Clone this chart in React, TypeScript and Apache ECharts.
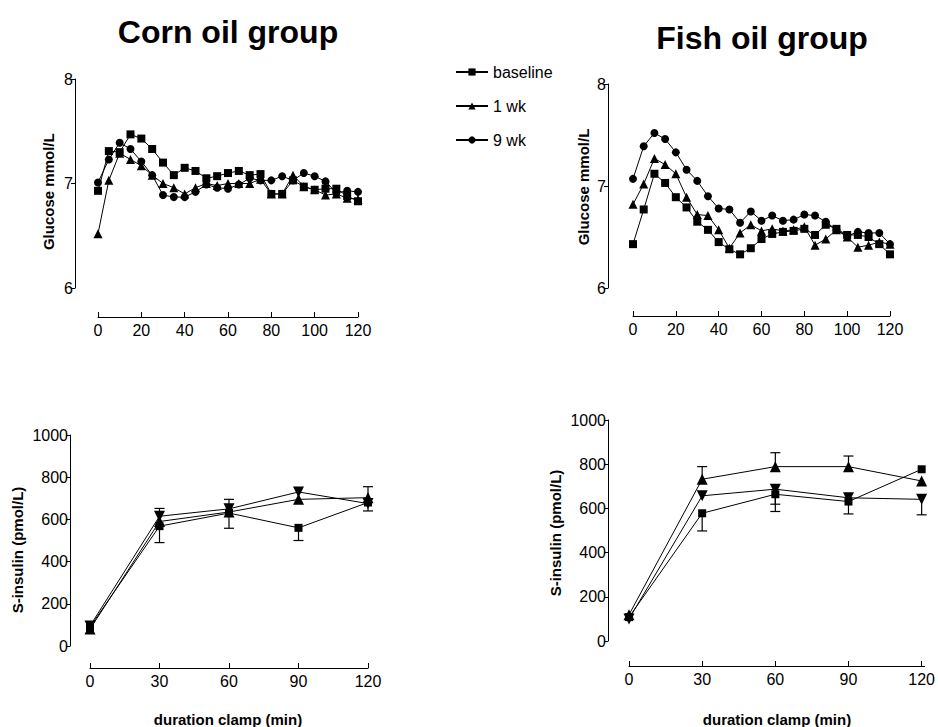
import React, { useEffect, useRef } from "react";
import * as echarts from "echarts";

// ---- data ----
const glucoseTimes = [0, 5, 10, 15, 20, 25, 30, 35, 40, 45, 50, 55, 60, 65, 70, 75, 80, 85, 90, 95, 100, 105, 110, 115, 120];
const cornBaseline = [6.93, 7.31, 7.3, 7.47, 7.43, 7.33, 7.2, 7.08, 7.15, 7.12, 7.05, 7.07, 7.1, 7.12, 7.08, 7.09, 6.9, 6.9, 7.03, 6.97, 6.94, 6.95, 6.95, 6.88, 6.83];
const corn1wk = [6.52, 7.03, 7.29, 7.23, 7.17, 7.08, 7.0, 6.96, 6.9, 6.96, 7.0, 6.98, 7.0, 7.0, 7.0, 7.04, 6.9, 6.9, 7.08, 6.97, 6.94, 6.89, 6.9, 6.86, 6.85];
const corn9wk = [7.01, 7.23, 7.39, 7.33, 7.21, 7.08, 6.89, 6.87, 6.87, 6.92, 6.99, 6.96, 6.95, 6.99, 7.05, 7.03, 7.03, 7.07, 7.03, 7.1, 7.07, 7.02, 6.91, 6.93, 6.92];
const fishBaseline = [6.43, 6.77, 7.12, 7.03, 6.89, 6.79, 6.65, 6.57, 6.45, 6.38, 6.33, 6.39, 6.48, 6.53, 6.55, 6.56, 6.58, 6.52, 6.62, 6.58, 6.52, 6.52, 6.5, 6.43, 6.33];
const fish1wk = [6.82, 7.02, 7.27, 7.21, 7.12, 6.89, 6.72, 6.71, 6.57, 6.39, 6.54, 6.62, 6.56, 6.58, 6.56, 6.57, 6.6, 6.42, 6.48, 6.57, 6.5, 6.4, 6.42, 6.45, 6.43];
const fish9wk = [7.07, 7.39, 7.52, 7.46, 7.33, 7.16, 7.05, 6.9, 6.78, 6.77, 6.64, 6.75, 6.66, 6.71, 6.66, 6.67, 6.72, 6.71, 6.65, 6.57, 6.51, 6.55, 6.54, 6.54, 6.43];

const insulinTimes = [0, 30, 60, 90, 120];
const cornInsBaseline = [90, 568, 630, 560, 680];
const cornIns1wk = [80, 590, 635, 695, 703];
const cornIns9wk = [95, 615, 650, 730, 675];
const fishInsBaseline = [108, 578, 664, 631, 777];
const fishIns1wk = [119, 732, 789, 789, 724];
const fishIns9wk = [100, 657, 687, 648, 641];

// error bars: [time, mean, end of bar]
const cornInsErrors = [
  [30, 568, 490], [60, 630, 558], [90, 560, 500], [120, 680, 640],
  [30, 615, 652], [60, 650, 695], [120, 703, 755],
];
const fishInsErrors = [
  [30, 732, 789], [60, 789, 852], [90, 789, 837],
  [30, 578, 498], [60, 664, 586], [90, 631, 575], [60, 687, 619], [120, 641, 571],
];

const seriesNames = ["baseline", "1 wk", "9 wk"];
const glucoseTicks = { min: 6, max: 8, interval: 1 };
const insulinTicks = { min: 0, max: 1000, interval: 200 };

const FONT = "'Liberation Sans', Arial, Helvetica, sans-serif";

const pair = (xs: number[], ys: number[]) => xs.map((x, i) => [x, ys[i]]);

export default function App() {
  const ref = useRef<HTMLDivElement>(null);
  useEffect(() => {
    if (!ref.current) return;
    const chart = echarts.init(ref.current, undefined, { renderer: "svg" });

    const grids = [
      { left: 98, top: 79, width: 260, height: 209 },
      { left: 633, top: 84, width: 257, height: 204 },
      { left: 90, top: 435, width: 278, height: 211 },
      { left: 629, top: 420, width: 296, height: 221 },
    ];
    const xOffsets = [29, 28, 22, 25];
    const yOffsets = [23, 25, 20, 21];

    const labelStyle = () => ({ color: "#000", fontSize: 16, fontFamily: FONT });

    const xAxes = grids.map((_, i) => ({
      type: "value",
      gridIndex: i,
      position: "bottom",
      min: 0,
      max: 120,
      interval: i < 2 ? 20 : 30,
      offset: xOffsets[i],
      axisLine: { show: true, onZero: false, lineStyle: { color: "#000", width: 1 } },
      axisTick: { show: true, inside: true, length: 5, lineStyle: { color: "#000", width: 1 } },
      axisLabel: { ...labelStyle(), margin: 5, formatter: (v: number) => String(v) },
      splitLine: { show: false },
    }));
    const yAxes = grids.map((_, i) => {
      const t = i < 2 ? glucoseTicks : insulinTicks;
      return {
        type: "value",
        gridIndex: i,
        position: "left",
        min: t.min,
        max: t.max,
        interval: t.interval,
        offset: yOffsets[i],
        axisLine: { show: true, onZero: false, lineStyle: { color: "#000", width: 1 } },
        axisTick: { show: true, inside: false, length: 4, lineStyle: { color: "#000", width: 1 } },
        axisLabel: { ...labelStyle(), margin: 2, formatter: (v: number) => String(v) },
        splitLine: { show: false },
      };
    });

    const lineSeries = (name: string, idx: number, data: number[][], symbol: string, size: number, rotate = 0) => ({
      type: "line",
      name,
      xAxisIndex: idx,
      yAxisIndex: idx,
      data,
      symbol,
      symbolSize: size,
      symbolRotate: rotate,
      showAllSymbol: true,
      lineStyle: { color: "#000", width: 1 },
      itemStyle: { color: "#000", borderWidth: 0 },
      z: 3,
    });

    const errorSeries = (idx: number, data: number[][]) => ({
      type: "custom",
      xAxisIndex: idx,
      yAxisIndex: idx,
      data,
      z: 2,
      renderItem: (params: any, api: any) => {
        const x = api.value(0);
        const m = api.coord([x, api.value(1)]);
        const e = api.coord([x, api.value(2)]);
        return {
          type: "group",
          children: [
            { type: "line", shape: { x1: m[0], y1: m[1], x2: e[0], y2: e[1] }, style: { stroke: "#000", lineWidth: 1.2 } },
            { type: "line", shape: { x1: e[0] - 5, y1: e[1], x2: e[0] + 5, y2: e[1] }, style: { stroke: "#000", lineWidth: 1.2 } },
          ],
        };
      },
    });

    const series: any[] = [
      lineSeries(seriesNames[0], 0, pair(glucoseTimes, cornBaseline), "rect", 8),
      lineSeries(seriesNames[1], 0, pair(glucoseTimes, corn1wk), "triangle", 9),
      lineSeries(seriesNames[2], 0, pair(glucoseTimes, corn9wk), "circle", 8),
      lineSeries(seriesNames[0], 1, pair(glucoseTimes, fishBaseline), "rect", 8),
      lineSeries(seriesNames[1], 1, pair(glucoseTimes, fish1wk), "triangle", 9),
      lineSeries(seriesNames[2], 1, pair(glucoseTimes, fish9wk), "circle", 8),
      errorSeries(2, cornInsErrors),
      lineSeries(seriesNames[0], 2, pair(insulinTimes, cornInsBaseline), "rect", 8),
      lineSeries(seriesNames[1], 2, pair(insulinTimes, cornIns1wk), "triangle", 11),
      lineSeries(seriesNames[2], 2, pair(insulinTimes, cornIns9wk), "triangle", 11, 180),
      errorSeries(3, fishInsErrors),
      lineSeries(seriesNames[0], 3, pair(insulinTimes, fishInsBaseline), "rect", 8),
      lineSeries(seriesNames[1], 3, pair(insulinTimes, fishIns1wk), "triangle", 11),
      lineSeries(seriesNames[2], 3, pair(insulinTimes, fishIns9wk), "triangle", 11, 180),
    ];

    const bold = (size: number) => ({ fontFamily: FONT, fontWeight: "bold", fontSize: size, fill: "#000" });
    const yName = (text: string, x: number, y: number) => ({
      type: "text",
      x,
      y,
      rotation: Math.PI / 2,
      style: { text, ...bold(15), align: "center", verticalAlign: "middle" },
    });
    const plain = (text: string, x: number, y: number, size: number) => ({
      type: "text",
      x,
      y,
      style: { text, ...bold(size), align: "center", verticalAlign: "middle" },
    });
    // explicit x-axis base lines, derived from grid geometry and axis offsets
    const xBaseLines = grids.map((g, i) => {
      const y = g.top + g.height + xOffsets[i] + 0.5;
      return {
        type: "line",
        z: 10,
        shape: { x1: g.left, y1: y, x2: g.left + g.width, y2: y },
        style: { stroke: "#000", lineWidth: 1 },
      };
    });

    chart.setOption({
      animation: false,
      backgroundColor: "#fff",
      grid: grids.map((g) => ({ ...g, containLabel: false })),
      xAxis: xAxes,
      yAxis: yAxes,
      series,
      legend: {
        data: seriesNames,
        orient: "vertical",
        left: 455,
        top: 64,
        padding: 0,
        itemWidth: 32,
        itemHeight: 9,
        itemGap: 18,
        textStyle: { color: "#000", fontSize: 16, fontFamily: FONT },
        selectedMode: false,
      },
      graphic: [
        ...xBaseLines,
        plain("Corn oil group", 228, 31.5, 32),
        plain("Fish oil group", 762, 37.5, 32),
        yName("Glucose mmol/L", 48.3, 191.7),
        yName("Glucose mmol/L", 583, 187),
        yName("S-insulin (pmol/L)", 17.5, 550),
        yName("S-insulin (pmol/L)", 555, 533),
        plain("duration clamp (min)", 228, 719, 15),
        plain("duration clamp (min)", 777, 719, 15),
      ],
    });
    return () => chart.dispose();
  }, []);
  return (
    <div
      ref={ref}
      style={{ position: "fixed", left: 0, top: 0, width: 938, height: 727, background: "#fff" }}
    />
  );
}
